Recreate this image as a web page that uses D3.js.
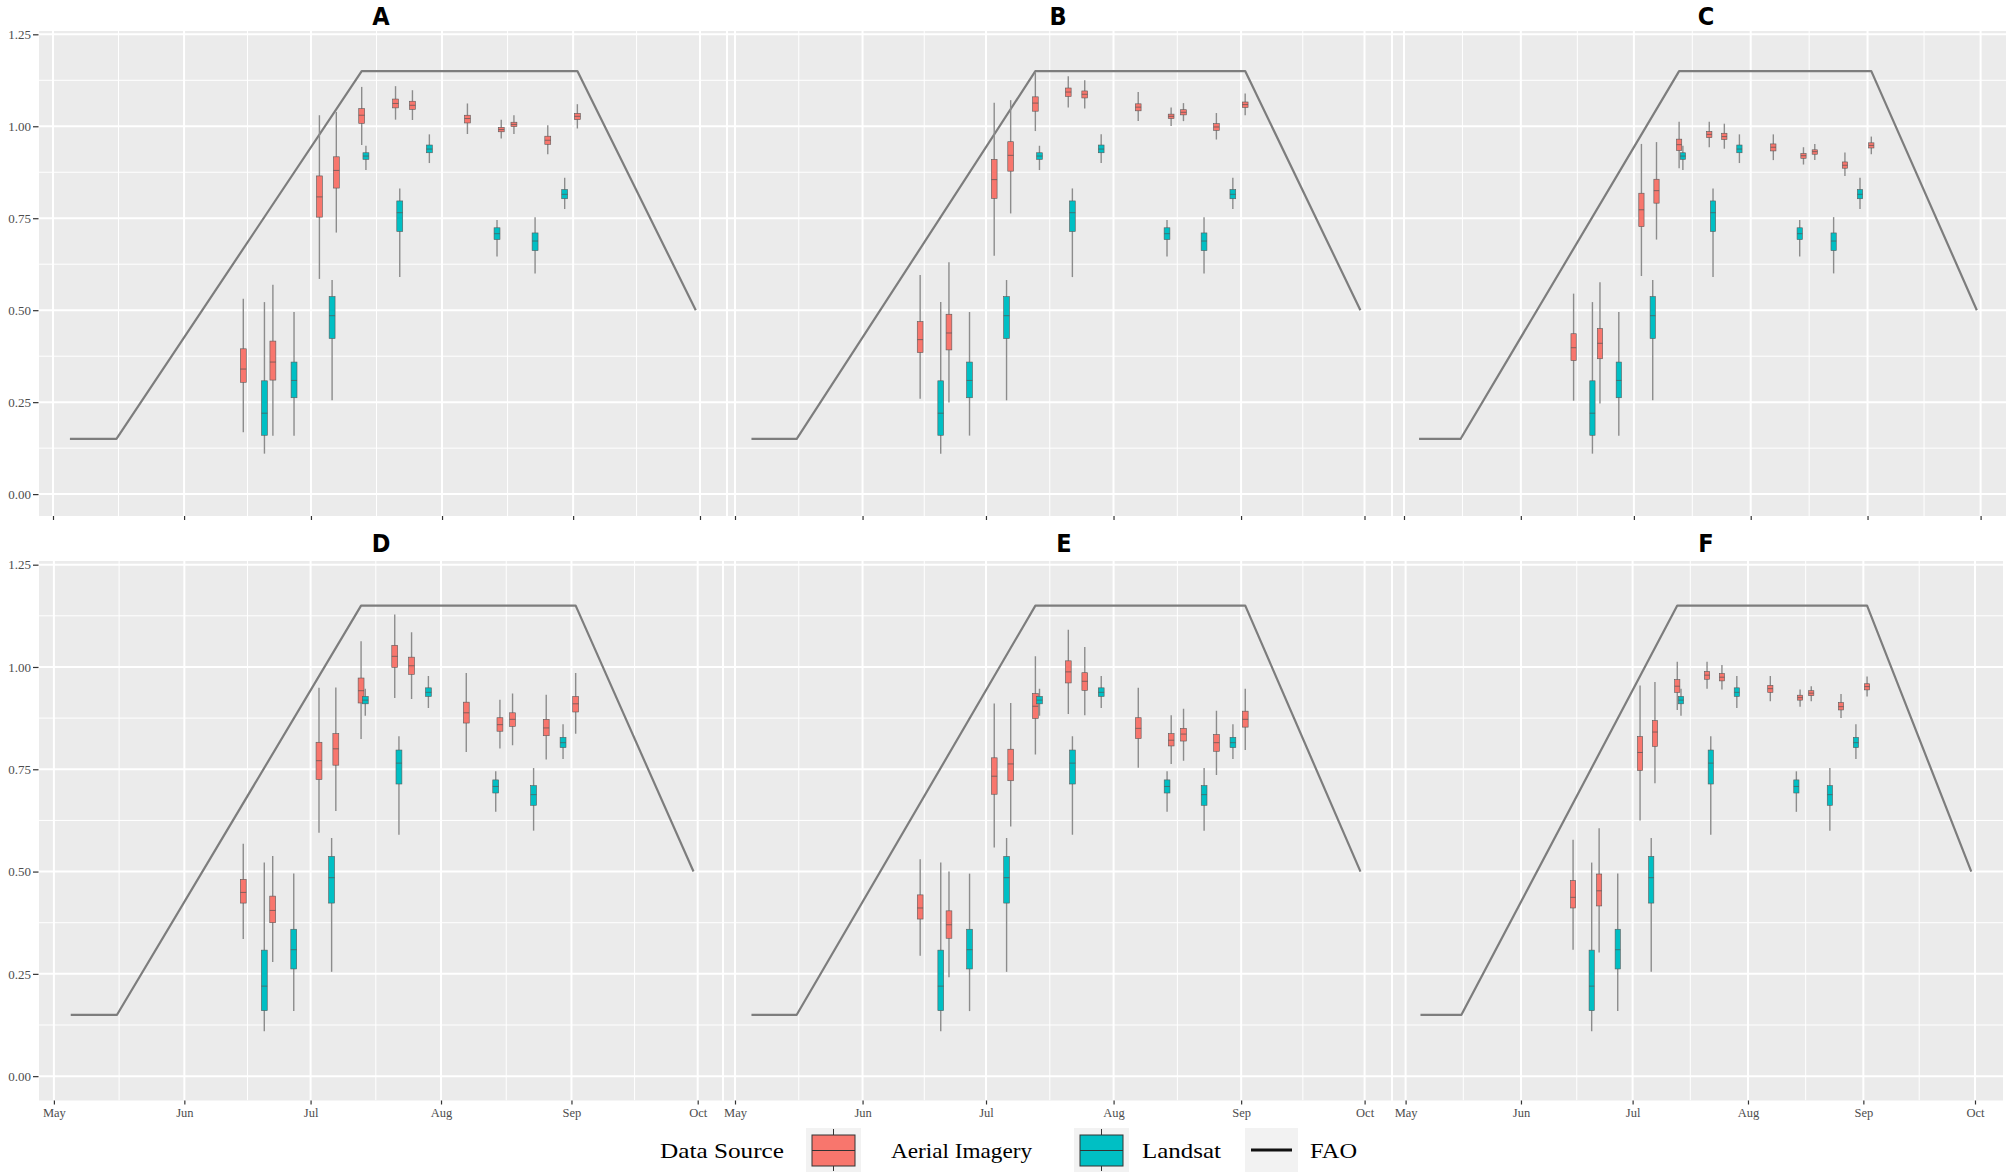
<!DOCTYPE html>
<html><head><meta charset="utf-8">
<script src="https://cdn.jsdelivr.net/npm/d3@7"></script>
<style>body{margin:0;background:#fff} svg{display:block}</style>
</head><body><svg id="chart" width="2011" height="1175"></svg>
<script>
// ---------- DATA ----------
const panelLabels = ["A","B","C","D","E","F"];
const monthBreaks = ["2019-05-01","2019-06-01","2019-07-01","2019-08-01","2019-09-01","2019-10-01"];
const yBreaks = [0, 0.25, 0.5, 0.75, 1.0, 1.25];

const faoDates  = ["2019-05-05","2019-05-16","2019-07-13","2019-09-02","2019-09-30"];
const faoValues = [0.15, 0.15, 1.15, 1.15, 0.5];

const aerialDates  = ["2019-06-15","2019-06-22","2019-07-03","2019-07-07","2019-07-13","2019-07-21",
                      "2019-07-25","2019-08-07","2019-08-15","2019-08-18","2019-08-26","2019-09-02"];
const landsatDates = ["2019-06-20","2019-06-27","2019-07-06","2019-07-14","2019-07-22","2019-07-29",
                      "2019-08-14","2019-08-23","2019-08-30"];

// [lower whisker, Q1, median, Q3, upper whisker]
const landsatStats = [
  [0.110,0.160,0.220,0.308,0.522],[0.159,0.262,0.309,0.359,0.495],[0.255,0.423,0.485,0.537,0.582],
  [0.881,0.910,0.919,0.928,0.947],[0.590,0.714,0.765,0.797,0.831],[0.900,0.928,0.938,0.949,0.978],
  [0.646,0.692,0.708,0.724,0.745],[0.600,0.662,0.688,0.710,0.753],[0.775,0.803,0.815,0.828,0.860]];

const aerialA = [
  [0.168,0.304,0.340,0.395,0.531],[0.159,0.310,0.359,0.416,0.569],[0.585,0.753,0.808,0.865,1.030],
  [0.711,0.832,0.880,0.917,1.039],[0.949,1.008,1.030,1.048,1.107],[1.018,1.050,1.062,1.074,1.109],
  [1.017,1.046,1.057,1.068,1.098],[0.979,1.009,1.021,1.030,1.062],[0.967,0.985,0.991,0.997,1.018],
  [0.979,0.999,1.005,1.011,1.030],[0.924,0.951,0.962,0.973,1.003],[0.994,1.018,1.027,1.035,1.060]];
const aerialB = [
  [0.259,0.385,0.420,0.469,0.596],[0.249,0.392,0.438,0.489,0.630],[0.648,0.804,0.855,0.910,1.064],
  [0.763,0.878,0.921,0.958,1.071],[0.987,1.041,1.063,1.080,1.146],[1.051,1.081,1.093,1.104,1.136],
  [1.048,1.077,1.087,1.096,1.125],[1.014,1.042,1.052,1.061,1.093],[1.001,1.021,1.027,1.033,1.051],
  [1.014,1.031,1.038,1.045,1.063],[0.964,0.989,0.998,1.007,1.036],[1.030,1.051,1.059,1.066,1.089]];
const aerialC = [
  [0.254,0.363,0.398,0.436,0.545],[0.246,0.368,0.410,0.450,0.576],[0.593,0.727,0.773,0.818,0.952],
  [0.692,0.791,0.825,0.856,0.957],[0.886,0.934,0.950,0.965,1.012],[0.943,0.969,0.978,0.986,1.012],
  [0.939,0.964,0.972,0.981,1.007],[0.908,0.933,0.943,0.952,0.978],[0.896,0.913,0.920,0.926,0.943],
  [0.908,0.924,0.931,0.936,0.952],[0.865,0.886,0.894,0.903,0.929],[0.924,0.941,0.948,0.955,0.972]];
const aerialD = [
  [0.335,0.423,0.449,0.481,0.568],[0.279,0.375,0.405,0.440,0.538],[0.595,0.725,0.771,0.816,0.949],
  [0.648,0.760,0.800,0.837,0.950],[0.824,0.912,0.942,0.973,1.063],[0.924,0.999,1.026,1.053,1.128],
  [0.922,0.982,1.003,1.024,1.085],[0.792,0.863,0.888,0.914,0.985],[0.801,0.843,0.859,0.876,0.920],
  [0.809,0.855,0.872,0.888,0.935],[0.774,0.832,0.851,0.872,0.932],[0.837,0.890,0.910,0.928,0.985]];
const aerialE = [
  [0.294,0.384,0.411,0.443,0.530],[0.242,0.337,0.370,0.404,0.500],[0.559,0.689,0.733,0.778,0.911],
  [0.610,0.722,0.763,0.799,0.912],[0.786,0.874,0.904,0.935,1.026],[0.885,0.961,0.988,1.015,1.091],
  [0.882,0.943,0.965,0.986,1.049],[0.754,0.825,0.850,0.876,0.949],[0.763,0.807,0.821,0.837,0.882],
  [0.771,0.819,0.836,0.850,0.898],[0.736,0.794,0.815,0.835,0.893],[0.797,0.853,0.872,0.892,0.947]];
const aerialF = [
  [0.309,0.411,0.437,0.478,0.578],[0.302,0.416,0.453,0.494,0.606],[0.625,0.747,0.791,0.830,0.955],
  [0.716,0.806,0.841,0.869,0.963],[0.895,0.938,0.953,0.969,1.013],[0.947,0.970,0.980,0.989,1.013],
  [0.945,0.966,0.975,0.984,1.005],[0.916,0.938,0.947,0.955,0.978],[0.903,0.919,0.925,0.931,0.945],
  [0.916,0.930,0.936,0.942,0.953],[0.875,0.895,0.903,0.913,0.934],[0.928,0.944,0.952,0.959,0.977]];

const legendLabels = ["Data Source","Aerial Imagery","Landsat","FAO"];

// ---------- LAYOUT ----------
const parse = d3.timeParse("%Y-%m-%d");
const svg = d3.select("#chart");
const colAerial = "#F8766D", colLandsat = "#00BFC4";
const yDomain = [-0.0595, 1.259];
const rows = [
  {top:31,  bottom:516,   labels:false, titleY:24.5},
  {top:561, bottom:1100.5, labels:true,  titleY:551.5}];
const aerialSets = [aerialA, aerialB, aerialC, aerialD, aerialE, aerialF];
const panelGeo = [
  {row:0, x0:39,   x1:726,  may:53,     oct:700,    yAxis:true,  tx:381},
  {row:0, x0:728,  x1:1391, may:735,    oct:1364.5, yAxis:false, tx:1058},
  {row:0, x0:1393, x1:2006, may:1404,   oct:1980.6, yAxis:false, tx:1706},
  {row:1, x0:39,   x1:722,  may:53.9,   oct:697.7,  yAxis:true,  tx:381},
  {row:1, x0:724,  x1:1391, may:735,    oct:1364.6, yAxis:false, tx:1064},
  {row:1, x0:1393, x1:2003, may:1405.6, oct:1975,   yAxis:false, tx:1706}];

const months = monthBreaks.map(parse);
const minorX = [];
for (let i = 0; i < months.length - 1; i++)
  minorX.push(new Date((months[i].getTime() + months[i+1].getTime()) / 2));
const minorY = yBreaks.slice(0, -1).map((v, i) => (v + yBreaks[i+1]) / 2);

const fao = faoDates.map((d, i) => ({date: parse(d), v: faoValues[i]}));
const landsat = landsatDates.map((d, i) => ({date: parse(d), s: landsatStats[i]}));
const DAY = 864e5, halfW = 0.7 * DAY;

panelGeo.forEach((p, pi) => {
  const r = rows[p.row];
  const x = d3.scaleTime().domain([months[0], months[5]]).range([p.may, p.oct]);
  const y = d3.scaleLinear().domain(yDomain).range([r.bottom, r.top]);
  const g = svg.append("g");
  const clipId = "clip" + pi;
  svg.append("clipPath").attr("id", clipId).append("rect")
     .attr("x", p.x0).attr("y", r.top).attr("width", p.x1 - p.x0).attr("height", r.bottom - r.top);

  g.append("rect").attr("x", p.x0).attr("y", r.top).attr("width", p.x1 - p.x0)
   .attr("height", r.bottom - r.top).attr("fill", "#EBEBEB");

  const grid = g.append("g").attr("clip-path", `url(#${clipId})`);
  grid.selectAll(".mny").data(minorY).join("line")
    .attr("x1", p.x0).attr("x2", p.x1).attr("y1", d => y(d)).attr("y2", d => y(d))
    .attr("stroke", "#fff").attr("stroke-width", 1);
  grid.selectAll(".mnx").data(minorX).join("line")
    .attr("x1", d => x(d)).attr("x2", d => x(d)).attr("y1", r.top).attr("y2", r.bottom)
    .attr("stroke", "#fff").attr("stroke-width", 1);
  grid.selectAll(".mjy").data(yBreaks).join("line")
    .attr("x1", p.x0).attr("x2", p.x1).attr("y1", d => y(d)).attr("y2", d => y(d))
    .attr("stroke", "#fff").attr("stroke-width", 2);
  grid.selectAll(".mjx").data(months).join("line")
    .attr("x1", d => x(d)).attr("x2", d => x(d)).attr("y1", r.top).attr("y2", r.bottom)
    .attr("stroke", "#fff").attr("stroke-width", 2);

  const plot = g.append("g").attr("clip-path", `url(#${clipId})`);
  plot.append("path").datum(fao)
    .attr("d", d3.line().x(d => x(d.date)).y(d => y(d.v)))
    .attr("fill", "none").attr("stroke", "#7d7d7d").attr("stroke-width", 2.2)
    .attr("stroke-linejoin", "round");

  const aerial = aerialDates.map((d, i) => ({date: parse(d), s: aerialSets[pi][i]}));
  function drawBoxes(data, fill) {
    const b = plot.append("g").selectAll("g").data(data).join("g");
    b.append("line")
      .attr("x1", d => x(d.date)).attr("x2", d => x(d.date))
      .attr("y1", d => y(d.s[0])).attr("y2", d => y(d.s[4]))
      .attr("stroke", "#8c8c8c").attr("stroke-width", 1.4);
    b.append("rect")
      .attr("x", d => x(new Date(d.date.getTime() - halfW)))
      .attr("width", d => x(new Date(d.date.getTime() + halfW)) - x(new Date(d.date.getTime() - halfW)))
      .attr("y", d => y(d.s[3])).attr("height", d => y(d.s[1]) - y(d.s[3]))
      .attr("fill", fill).attr("stroke", "#5a5a5a").attr("stroke-width", 0.6);
    b.append("line")
      .attr("x1", d => x(new Date(d.date.getTime() - halfW)))
      .attr("x2", d => x(new Date(d.date.getTime() + halfW)))
      .attr("y1", d => y(d.s[2])).attr("y2", d => y(d.s[2]))
      .attr("stroke", "#555").attr("stroke-width", 0.7);
  }
  drawBoxes(aerial, colAerial);
  drawBoxes(landsat, colLandsat);

  // x axis
  const xa = g.append("g").attr("transform", `translate(0,${r.bottom})`)
    .call(d3.axisBottom(x).tickValues(months).tickFormat(d3.timeFormat("%b")).tickSize(4).tickPadding(4));
  xa.select(".domain").remove();
  xa.selectAll(".tick line").attr("stroke", "#333").attr("stroke-width", 1.2);
  xa.selectAll("text").attr("font-family", "'Liberation Serif', serif").attr("font-size", 12.5)
    .attr("fill", "#4d4d4d");
  if (!r.labels) xa.selectAll("text").remove();

  if (p.yAxis) {
    const ya = g.append("g").attr("transform", `translate(${p.x0 - 0.5},0)`)
      .call(d3.axisLeft(y).tickValues(yBreaks).tickFormat(d3.format(".2f")).tickSize(5.5).tickPadding(2));
    ya.select(".domain").remove();
    ya.selectAll(".tick line").attr("stroke", "#333").attr("stroke-width", 1.2);
    ya.selectAll("text").attr("font-family", "'Liberation Serif', serif").attr("font-size", 13)
      .attr("fill", "#4d4d4d");
  }

  svg.append("text").attr("x", p.tx).attr("y", r.titleY).attr("text-anchor", "middle")
    .attr("font-family", "'DejaVu Sans Condensed', 'DejaVu Sans', sans-serif")
    .attr("font-weight", "bold").attr("font-size", 25).attr("fill", "#000")
    .text(panelLabels[pi]);
});

// ---------- LEGEND ----------
const lg = svg.append("g").attr("font-family", "'Liberation Serif', serif").attr("font-size", 21).attr("fill", "#000");
const legText = [{x:660, w:124}, {x:891, w:141}, {x:1142, w:79}, {x:1310, w:47}];
legText.forEach((t, i) => {
  lg.append("text").attr("x", t.x).attr("y", 1158).attr("textLength", t.w)
    .attr("lengthAdjust", "spacingAndGlyphs").text(legendLabels[i]);
});
const keys = [{x:806, fill:colAerial}, {x:1074, fill:colLandsat}];
keys.forEach(k => {
  lg.append("rect").attr("x", k.x).attr("y", 1128).attr("width", 55).attr("height", 44).attr("fill", "#F2F2F2");
  lg.append("line").attr("x1", k.x + 27.5).attr("x2", k.x + 27.5).attr("y1", 1129).attr("y2", 1171)
    .attr("stroke", "#333").attr("stroke-width", 1);
  lg.append("rect").attr("x", k.x + 6).attr("y", 1135).attr("width", 43).attr("height", 31)
    .attr("fill", k.fill).attr("stroke", "#333").attr("stroke-width", 1);
  lg.append("line").attr("x1", k.x + 6).attr("x2", k.x + 49).attr("y1", 1150.5).attr("y2", 1150.5)
    .attr("stroke", "#333").attr("stroke-width", 1);
});
lg.append("rect").attr("x", 1245).attr("y", 1128).attr("width", 53).attr("height", 44).attr("fill", "#F2F2F2");
lg.append("line").attr("x1", 1251).attr("x2", 1292).attr("y1", 1150).attr("y2", 1150)
  .attr("stroke", "#111").attr("stroke-width", 3);
</script>
</body></html>
